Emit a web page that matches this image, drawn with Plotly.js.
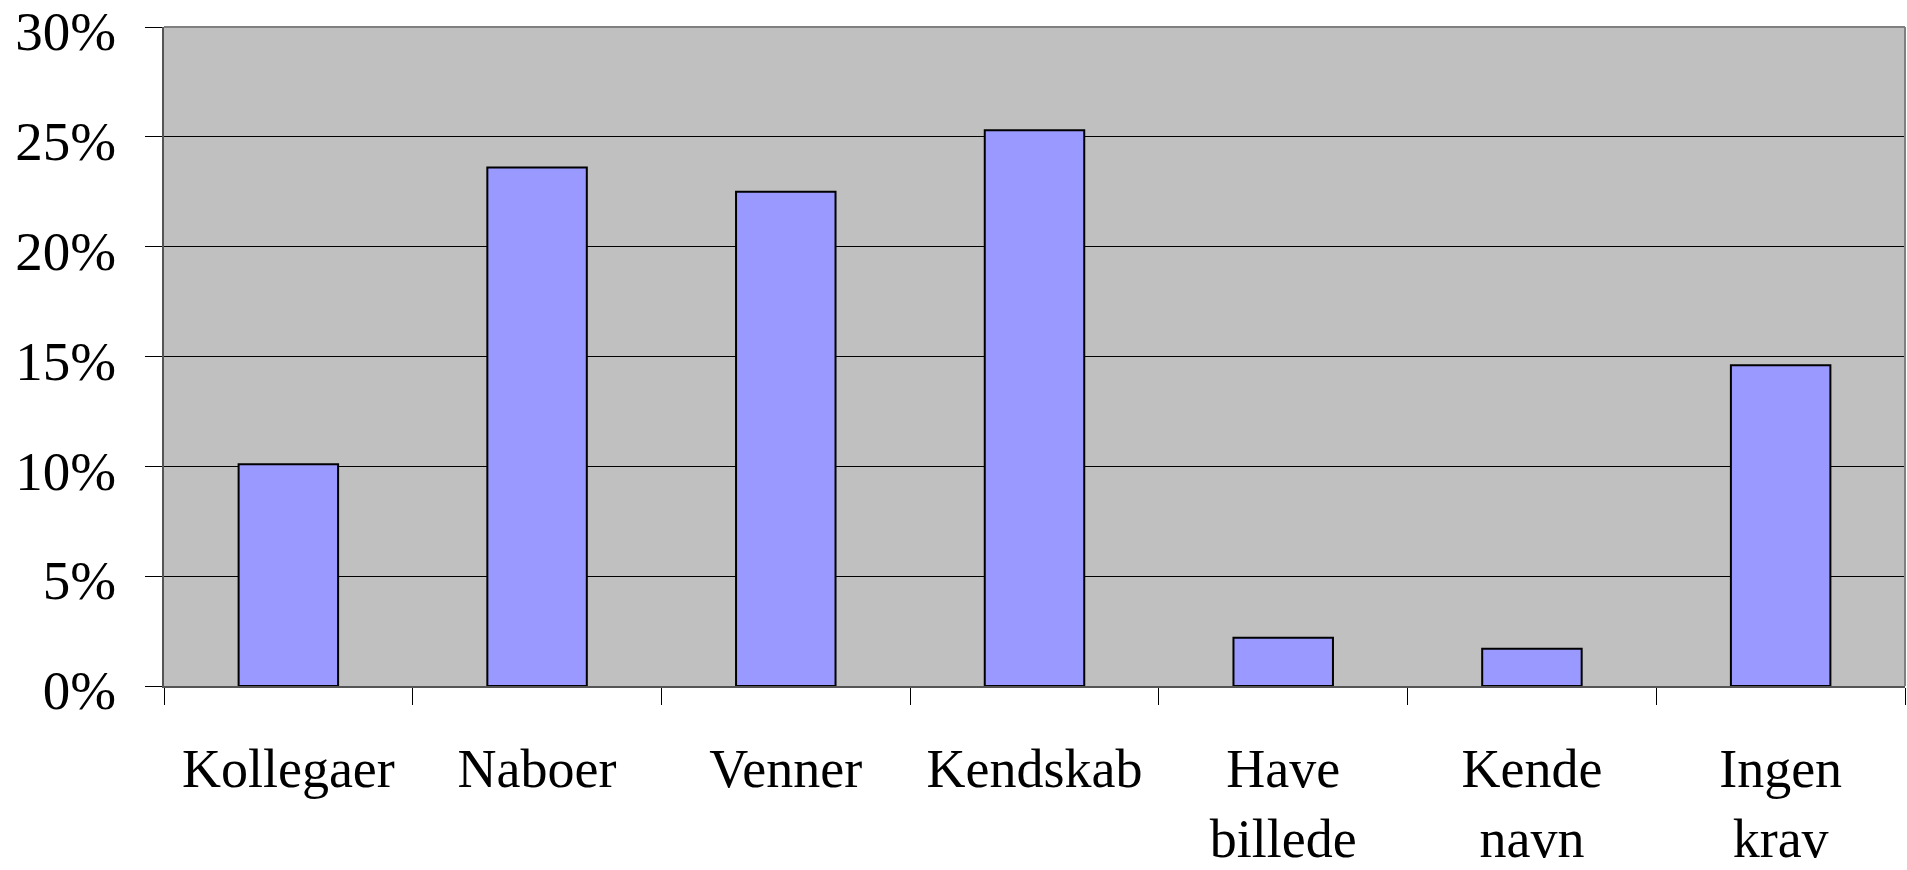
<!DOCTYPE html>
<html>
<head>
<meta charset="utf-8">
<script src="https://cdn.plot.ly/plotly-3.0.1.min.js"></script>
<style>
  html, body { margin: 0; padding: 0; background: #ffffff; }
  #chart { width: 1907px; height: 870px; }
</style>
</head>
<body>
<div id="chart"></div>
<script>
const categories = ["Kollegaer", "Naboer", "Venner", "Kendskab", "Have<br>billede", "Kende<br>navn", "Ingen<br>krav"];
const values = [10.1, 23.6, 22.5, 25.3, 2.2, 1.7, 14.6];
const yTickValues = [0, 5, 10, 15, 20, 25, 30];
const yTickLabels = ["0%", "5%", "10%", "15%", "20%", "25%", "30%"];

const font = { family: "Liberation Serif, Times New Roman, serif", size: 55, color: "#000000" };
const xFont = { family: "Liberation Serif, Times New Roman, serif", size: 54, color: "#000000" };

const trace = {
  type: "bar",
  x: categories,
  y: values,
  width: 0.4,
  marker: { color: "#9999FF", line: { color: "#000000", width: 2 } },
  hoverinfo: "x+y"
};

const layout = {
  width: 1907,
  height: 870,
  margin: { l: 164, r: 2, t: 27, b: 184 },
  paper_bgcolor: "#ffffff",
  plot_bgcolor: "#C0C0C0",
  showlegend: false,
  font: font,
  xaxis: {
    type: "category",
    tickson: "boundaries",
    ticks: "outside",
    ticklen: 17,
    tickwidth: 1,
    tickcolor: "#000000",
    showline: true,
    linecolor: "#555555",
    linewidth: 2,
    showgrid: false,
    tickfont: xFont,
    ticklabelstandoff: 34,
    ticklabeloverflow: "allow"
  },
  yaxis: {
    range: [0, 30],
    tickvals: yTickValues,
    ticktext: yTickLabels,
    ticks: "outside",
    ticklen: 17,
    tickwidth: 1,
    tickcolor: "#000000",
    showline: true,
    linecolor: "#555555",
    linewidth: 2,
    showgrid: true,
    gridcolor: "#000000",
    gridwidth: 1,
    zeroline: false,
    tickfont: font,
    ticklabelstandoff: 18,
    ticklabelshift: 4,
    ticklabeloverflow: "allow"
  },
  shapes: [
    { type: "line", xref: "paper", yref: "paper", x0: 0, x1: 1, y0: 1, y1: 1, line: { color: "#808080", width: 2 } },
    { type: "line", xref: "paper", yref: "paper", x0: 1, x1: 1, y0: 0, y1: 1, line: { color: "#808080", width: 2 } }
  ],
  bargap: 0.6
};

Plotly.newPlot("chart", [trace], layout, { displayModeBar: false, staticPlot: true });
</script>
</body>
</html>
